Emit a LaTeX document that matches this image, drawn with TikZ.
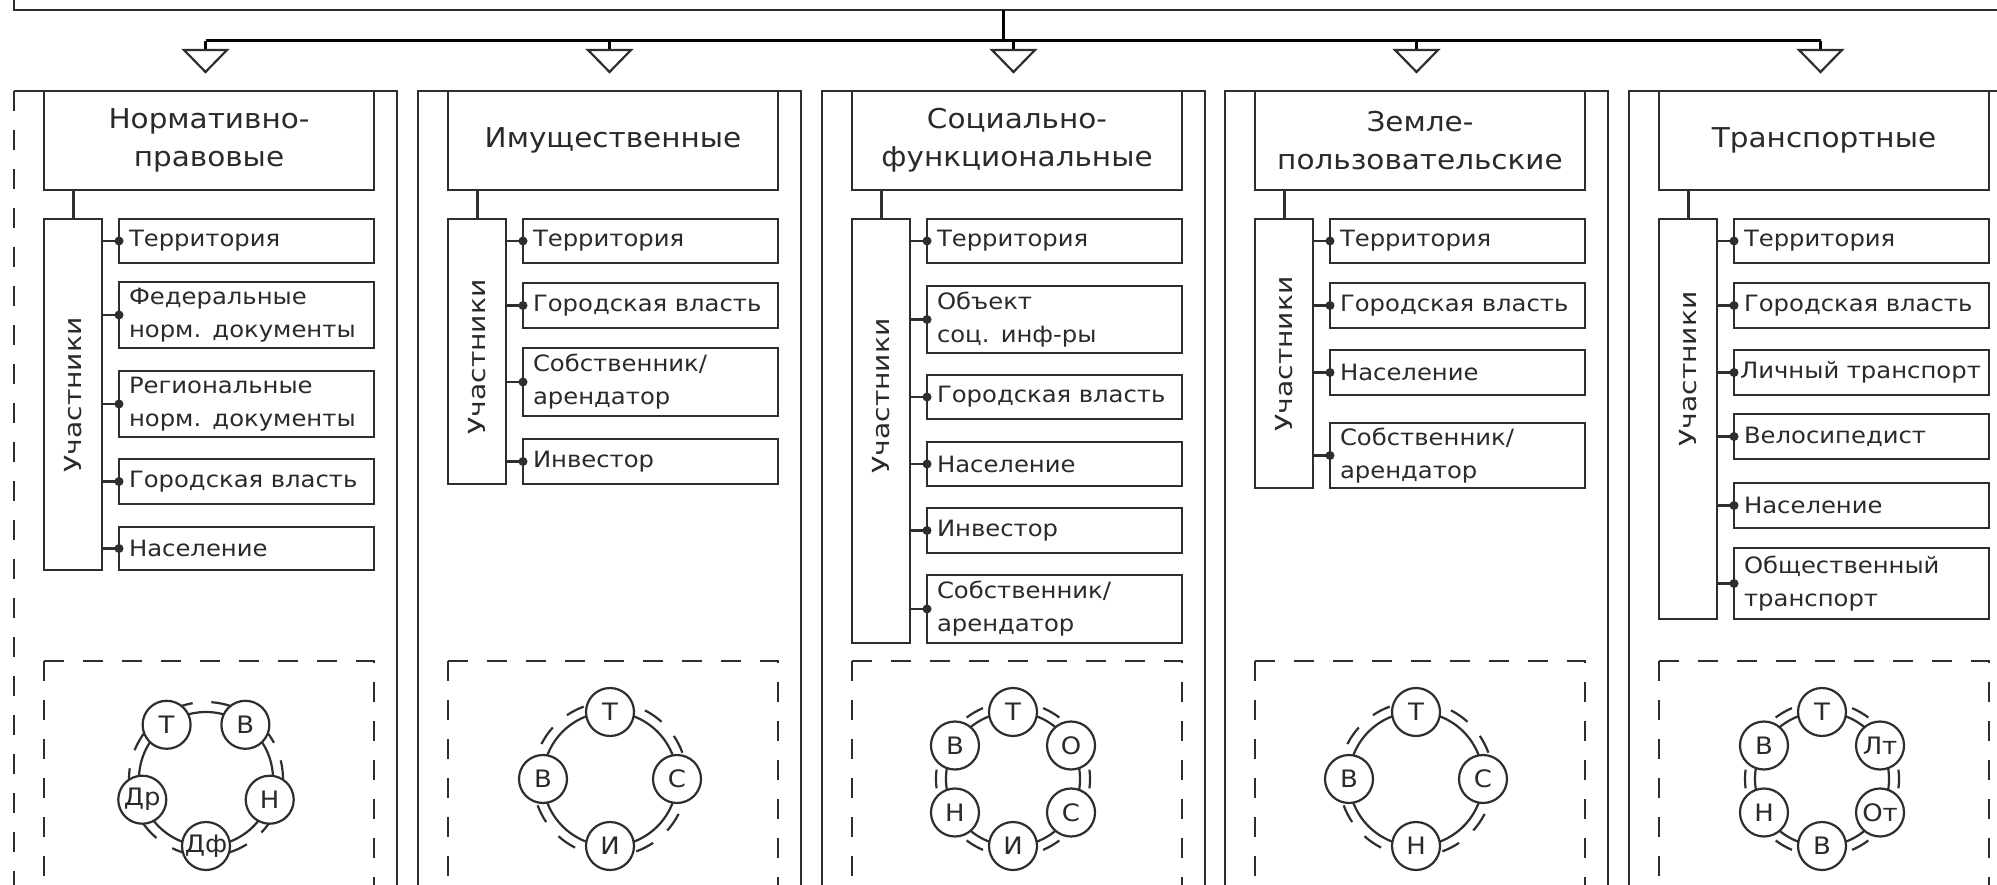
\documentclass[tikz,border=0pt]{standalone}
\usepackage{fontspec}
\newfontfamily\dvs{DejaVu Sans}[FakeStretch=1.08]
\newfontfamily\dvsw{DejaVu Sans}[FakeStretch=1.2]
\usetikzlibrary{calc}
\definecolor{linec}{HTML}{2E2E2E}
\definecolor{txt}{HTML}{2A2A2A}
\newcommand\titlef{\dvs\fontsize{27.3}{38}\selectfont}
\newcommand\itemf{\dvs\fontsize{22.5}{33}\selectfont}
\newcommand\partf{\dvsw\fontsize{23.5}{30}\selectfont}
\newcommand\ringf{\dvs\fontsize{24}{30}\selectfont}
\newcommand\itm[5]{\node[itembox, minimum height=#4pt] (#1) at (#2,#3) {#5};}
\newcommand\lnk[2]{\draw[stublink] (#1.east |- #2.west) -- (#2.west); \fill[linec] (#2.west) circle (4.5pt);}
\tikzset{
  ln/.style={draw=linec, line width=2.2pt},
  dashln/.style={draw=linec, line width=2.2pt, dash pattern=on 20pt off 19pt},
  titlebox/.style={ln, minimum width=330pt, minimum height=99pt, anchor=north west, align=center, font=\titlef, text=txt, inner sep=0pt, outer sep=0pt},
  partbox/.style={ln, minimum width=58pt, anchor=north west, inner sep=0pt, outer sep=0pt},
  ptext/.style={rotate=90, font=\partf, text=txt, inner sep=0pt},
  itembox/.style={ln, anchor=north west, text width=235pt, inner xsep=10pt, inner ysep=0pt, outer sep=0pt, align=left, font=\itemf, text=txt},
  stublink/.style={draw=linec, line width=2.8pt},
  uplink/.style={draw=linec, line width=3pt},
  bus/.style={draw=black, line width=3pt},
  stub/.style={draw=black, line width=2.2pt},
  tri/.style={draw=linec, line width=2.2pt, fill=white, line join=miter},
  ringln/.style={draw=linec, line width=2.2pt},
  rnode/.style={circle, draw=linec, line width=2.2pt, fill=white, minimum size=48pt, inner sep=0pt, font=\ringf, text=txt},
}
\begin{document}
\begin{tikzpicture}[x=1pt,y=-1pt]
\useasboundingbox (0,0) rectangle (1997,885);
\fill[white] (0,0) rectangle (1997,885);
\clip (0,0) rectangle (1997,885);

% top box and distribution bus
\node[draw=linec, line width=2.2pt, minimum width=2100pt, minimum height=100pt, anchor=south west, outer sep=0pt] (topbox) at (14,10) {};
\coordinate (trunk) at (1003,41);
\draw[bus] (topbox.south -| trunk) -- (trunk);
\coordinate (bl) at (205.5,41);
\coordinate (br) at (1820.5,41);
\draw[bus] (bl) -- (br);
\foreach \i/\x in {1/205.5,2/609.5,3/1013.5,4/1416.5,5/1820.5} {
  \coordinate (a\i) at (\x,50);
  \draw[stub] (a\i |- bl) -- (a\i);
  \draw[tri] ($(a\i)+(-21.5pt,0)$) -- ($(a\i)+(21.5pt,0)$) -- ($(a\i)+(0,-22pt)$) -- cycle;
}

% column frames
\draw[ln] (397,900) -- (397,91) -- (14,91);
\draw[dashln] (14,91) -- (14,900);
\foreach \f in {418,822,1225,1629} {\draw[ln] (\f,900) -- (\f,91) -- (\f+383,91) -- (\f+383,900);}

% dashed boxes
\foreach \f in {14,418,822,1225,1629} {
  \draw[dashln] (\f+30,661) -- (\f+30,950);
  \draw[dashln] (\f+30,661) -- (\f+360,661) -- (\f+360,950);
}

%================ column 1
\node[titlebox] (t1) at (44,91) {Нормативно-\\правовые};
\node[partbox, minimum height=351pt] (p1) at (44,219) {};
\node[ptext] (u1) at (73,395) {Участники};
\draw[uplink] (p1.north) -- (p1.north |- t1.south);
\itm{i11}{119}{219}{44}{Территория}
\itm{i12}{119}{282}{66}{Федеральные\\норм. документы}
\itm{i13}{119}{371}{66}{Региональные\\норм. документы}
\itm{i14}{119}{459}{45}{Городская власть}
\itm{i15}{119}{527}{43}{Население}
\foreach \j in {1,...,5} {\lnk{p1}{i1\j}}

%================ column 2
\node[titlebox] (t2) at (448,91) {Имущественные};
\node[partbox, minimum height=265pt] (p2) at (448,219) {};
\node[ptext] (u2) at (477,357) {Участники};
\draw[uplink] (p2.north) -- (p2.north |- t2.south);
\itm{i21}{523}{219}{44}{Территория}
\itm{i22}{523}{283}{45}{Городская власть}
\itm{i23}{523}{348}{68}{Собственник/\\арендатор}
\itm{i24}{523}{439}{45}{Инвестор}
\foreach \j in {1,...,4} {\lnk{p2}{i2\j}}

%================ column 3
\node[titlebox] (t3) at (852,91) {Социально-\\функциональные};
\node[partbox, minimum height=424pt] (p3) at (852,219) {};
\node[ptext] (u3) at (881,396) {Участники};
\draw[uplink] (p3.north) -- (p3.north |- t3.south);
\itm{i31}{927}{219}{44}{Территория}
\itm{i32}{927}{286}{67}{Объект\\соц. инф-ры}
\itm{i33}{927}{375}{44}{Городская власть}
\itm{i34}{927}{442}{44}{Население}
\itm{i35}{927}{508}{45}{Инвестор}
\itm{i36}{927}{575}{68}{Собственник/\\арендатор}
\foreach \j in {1,...,6} {\lnk{p3}{i3\j}}

%================ column 4
\node[titlebox] (t4) at (1255,91) {Земле-\\пользовательские};
\node[partbox, minimum height=269pt] (p4) at (1255,219) {};
\node[ptext] (u4) at (1284,354) {Участники};
\draw[uplink] (p4.north) -- (p4.north |- t4.south);
\itm{i41}{1330}{219}{44}{Территория}
\itm{i42}{1330}{283}{45}{Городская власть}
\itm{i43}{1330}{350}{45}{Население}
\itm{i44}{1330}{423}{65}{Собственник/\\арендатор}
\foreach \j in {1,...,4} {\lnk{p4}{i4\j}}

%================ column 5
\node[titlebox] (t5) at (1659,91) {Транспортные};
\node[partbox, minimum height=400pt] (p5) at (1659,219) {};
\node[ptext] (u5) at (1688,369) {Участники};
\draw[uplink] (p5.north) -- (p5.north |- t5.south);
\itm{i51}{1734}{219}{44}{Территория}
\itm{i52}{1734}{283}{45}{Городская власть}
\node[itembox, minimum height=45pt, inner xsep=6pt, text width=243pt] (i53) at (1734,350) {\mbox{Личный транспорт}};
\itm{i54}{1734}{414}{45}{Велосипедист}
\itm{i55}{1734}{483}{45}{Население}
\itm{i56}{1734}{548}{71}{Общественный\\транспорт}
\foreach \j in {1,...,6} {\lnk{p5}{i5\j}}

%================ rings
\coordinate (c1) at (206,779);
\coordinate (c2) at (610,779);
\coordinate (c3) at (1013,779);
\coordinate (c4) at (1416,779);
\coordinate (c5) at (1822,779);
\foreach \k in {1,...,5} {\draw[ringln] (c\k) circle (67pt);}
% outer dashed arcs
\foreach \m in {90,18,-54,-126,162} {
  \draw[ringln] ([shift={({\m-20}:77pt)}]c1) arc[start angle=\m-20, end angle=\m-4, radius=77pt];
  \draw[ringln] ([shift={({\m+10}:77pt)}]c1) arc[start angle=\m+10, end angle=\m+24, radius=77pt];
}
\foreach \c in {c2,c4} {
  \foreach \m in {45,135,225,315} {
    \draw[ringln] ([shift={({\m-25}:77pt)}]\c) arc[start angle=\m-25, end angle=\m-11, radius=77pt];
    \draw[ringln] ([shift={({\m+3}:77pt)}]\c) arc[start angle=\m+3, end angle=\m+18, radius=77pt];
  }
}
\foreach \c in {c3,c5} {
  \foreach \m in {0,60,120,180,240,300} {
    \draw[ringln] ([shift={({\m-7}:77pt)}]\c) arc[start angle=\m-7, end angle=\m+7, radius=77pt];
  }
}
% ring 1
\node[rnode] (r1t) at ([shift={(126:67pt)}]c1) {Т};
\node[rnode] (r1v) at ([shift={(54:67pt)}]c1) {В};
\node[rnode] (r1n) at ([shift={(-18:67pt)}]c1) {Н};
\node[rnode] (r1df) at ([shift={(-90:67pt)}]c1) {Дф};
\node[rnode] (r1dr) at ([shift={(198:67pt)}]c1) {Др};
% ring 2
\node[rnode] (r2t) at ([shift={(90:67pt)}]c2) {Т};
\node[rnode] (r2s) at ([shift={(0:67pt)}]c2) {С};
\node[rnode] (r2i) at ([shift={(-90:67pt)}]c2) {И};
\node[rnode] (r2v) at ([shift={(180:67pt)}]c2) {В};
% ring 3
\node[rnode] (r3t) at ([shift={(90:67pt)}]c3) {Т};
\node[rnode] (r3o) at ([shift={(30:67pt)}]c3) {О};
\node[rnode] (r3s) at ([shift={(-30:67pt)}]c3) {С};
\node[rnode] (r3i) at ([shift={(-90:67pt)}]c3) {И};
\node[rnode] (r3n) at ([shift={(210:67pt)}]c3) {Н};
\node[rnode] (r3v) at ([shift={(150:67pt)}]c3) {В};
% ring 4
\node[rnode] (r4t) at ([shift={(90:67pt)}]c4) {Т};
\node[rnode] (r4s) at ([shift={(0:67pt)}]c4) {С};
\node[rnode] (r4n) at ([shift={(-90:67pt)}]c4) {Н};
\node[rnode] (r4v) at ([shift={(180:67pt)}]c4) {В};
% ring 5
\node[rnode] (r5t) at ([shift={(90:67pt)}]c5) {Т};
\node[rnode] (r5lt) at ([shift={(30:67pt)}]c5) {Лт};
\node[rnode] (r5ot) at ([shift={(-30:67pt)}]c5) {От};
\node[rnode] (r5v) at ([shift={(-90:67pt)}]c5) {В};
\node[rnode] (r5n) at ([shift={(210:67pt)}]c5) {Н};
\node[rnode] (r5vb) at ([shift={(150:67pt)}]c5) {В};
\end{tikzpicture}
\end{document}
